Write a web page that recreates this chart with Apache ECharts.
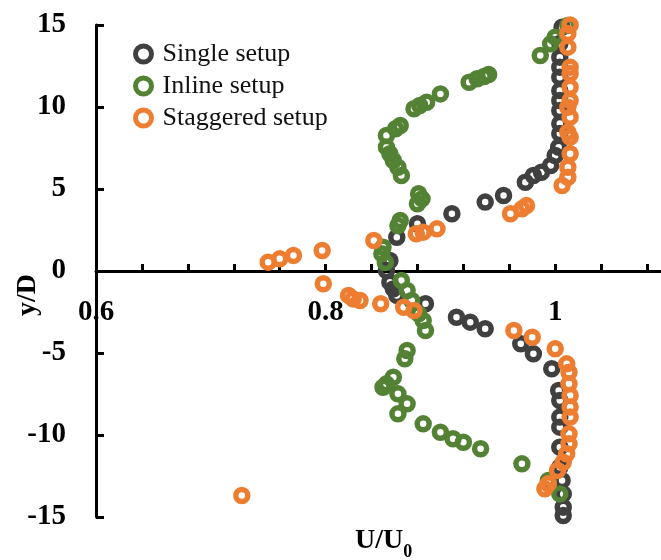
<!DOCTYPE html>
<html>
<head>
<meta charset="utf-8">
<script src="https://cdn.jsdelivr.net/npm/echarts@6/dist/echarts.min.js"></script>
<style>
  html, body { margin: 0; padding: 0; background: #fff; }
  #chart { width: 661px; height: 560px; }
</style>
</head>
<body>
<div id="chart"></div>
<script>
// Velocity deficit profiles: U/U0 against y/D for three turbine layouts
const seriesNames = ['Single setup', 'Inline setup', 'Staggered setup'];

const singleU = [1.006, 1.004, 1.004, 1.004, 1.004, 1.004, 1.004, 1.004, 1.004, 1.004, 1.003, 1.000, 0.996, 0.988, 0.981, 0.974, 0.955, 0.939, 0.910, 0.880, 0.862, 0.856, 0.853,
  0.856, 0.859, 0.862, 0.887, 0.914, 0.926, 0.939, 0.970, 0.981, 0.997, 1.003, 1.004, 1.004, 1.004, 1.004, 1.004, 1.006, 1.007, 1.007, 1.007];
const singleY = [14.87, 13.87, 13.04, 12.43, 11.82, 11.0, 10.40, 9.79, 8.99, 8.38, 7.55, 7.04, 6.43, 6.02, 5.82, 5.41, 4.60, 4.20, 3.49, 2.88, 2.06, 0.64, 0.03,
  -0.68, -1.09, -1.49, -2.00, -2.82, -3.12, -3.52, -4.44, -5.05, -5.96, -7.29, -7.9, -8.91, -9.52, -10.74, -11.96, -12.77, -13.59, -14.40, -14.91];

const inlineU = [1.011, 1.000, 0.996, 0.987, 0.942, 0.938, 0.932, 0.925, 0.900, 0.888, 0.882, 0.877, 0.865, 0.861, 0.853, 0.853, 0.856, 0.859, 0.863, 0.866, 0.881, 0.884, 0.880, 0.865, 0.863, 0.850, 0.849, 0.852,
  0.866, 0.871, 0.875, 0.881, 0.885, 0.887, 0.871, 0.869, 0.859, 0.853, 0.850, 0.863, 0.871, 0.863, 0.885, 0.900, 0.911, 0.920, 0.935, 0.971, 0.994, 1.004];
const inlineY = [14.97, 14.26, 13.85, 13.14, 11.98, 11.86, 11.72, 11.51, 10.80, 10.29, 10.09, 9.89, 8.87, 8.67, 8.26, 7.55, 7.15, 6.74, 6.33, 5.82, 4.71, 4.40, 4.10, 3.08, 2.77, 1.45, 1.05, 0.52,
  -0.58, -1.19, -1.80, -2.61, -3.02, -3.63, -4.85, -5.35, -6.48, -6.88, -7.09, -7.49, -8.10, -8.71, -9.32, -9.83, -10.23, -10.44, -10.84, -11.76, -12.77, -13.59];

const staggeredU = [1.013, 1.011, 1.011, 1.013, 1.013, 1.013, 1.013, 1.011, 1.013, 1.011, 1.013, 1.013, 1.011, 1.011, 1.006, 0.975, 0.971, 0.961, 0.897, 0.885, 0.879, 0.842, 0.797, 0.772, 0.760, 0.750,
  0.798, 0.820, 0.824, 0.830, 0.848, 0.868, 0.877, 0.964, 0.980, 1.000, 1.010, 1.012, 1.012, 1.013, 1.013, 1.013, 1.012, 1.012, 1.010, 1.007, 1.002, 0.994, 0.991, 0.727];
const staggeredY = [15.0, 14.48, 13.65, 12.43, 12.04, 11.21, 10.40, 9.99, 9.38, 8.46, 8.16, 7.15, 6.33, 5.72, 5.21, 3.99, 3.79, 3.49, 2.57, 2.37, 2.27, 1.86, 1.25, 0.95, 0.74, 0.54,
  -0.78, -1.49, -1.70, -1.80, -2.00, -2.21, -2.41, -3.63, -4.04, -4.74, -5.66, -6.17, -6.88, -7.59, -8.30, -8.91, -9.93, -10.54, -11.15, -11.66, -12.16, -12.98, -13.28, -13.69];

// Labelled x ticks (minor ticks every 0.04 stay unlabelled)
const xTickValues = [0.6, 0.8, 1.0];
const xTickLabels = ['0.6', '0.8', '1'];

const colors = ['#404040', '#548235', '#ed7d31'];
const serif = '"Liberation Serif", "Times New Roman", serif';

const GRID_TOP = 25;
const GRID_BOTTOM = 43;
const Y_MIN = -15;
const Y_MAX = 15;

function pairs(xs, ys) {
  return xs.map((x, i) => [x, ys[i]]);
}

const allData = [pairs(singleU, singleY), pairs(inlineU, inlineY), pairs(staggeredU, staggeredY)];

// The x axis sits on y = 0: shift the bottom axis up by the distance from the grid bottom to zero
const gridHeight = 560 - GRID_TOP - GRID_BOTTOM;
const zeroShift = gridHeight * (0 - Y_MIN) / (Y_MAX - Y_MIN);

const chart = echarts.init(document.getElementById('chart'), null, { renderer: 'canvas' });

chart.setOption({
  animation: false,
  backgroundColor: '#ffffff',
  grid: { left: 96, top: GRID_TOP, bottom: GRID_BOTTOM, right: -9, containLabel: false, outerBoundsMode: 'none' },
  legend: {
    orient: 'vertical',
    left: 128,
    top: 36,
    itemWidth: 28,
    itemHeight: 16,
    itemGap: 6,
    icon: 'circle',
    textStyle: { fontFamily: serif, fontSize: 26, color: '#111' },
    data: seriesNames.map((n, i) => ({
      name: n,
      itemStyle: { color: '#ffffff', borderColor: colors[i], borderWidth: 5 }
    }))
  },
  xAxis: {
    type: 'value',
    position: 'bottom',
    offset: -zeroShift,
    min: 0.6,
    max: 1.1,
    interval: 0.04,
    splitLine: { show: false },
    axisLine: { onZero: false, lineStyle: { color: '#000', width: 3 } },
    axisTick: { inside: true, length: 7, lineStyle: { color: '#000', width: 3 } },
    axisLabel: {
      margin: 27,
      fontFamily: serif,
      fontWeight: 'bold',
      fontSize: 29,
      color: '#000',
      formatter: v => {
        const k = xTickValues.findIndex(t => Math.abs(t - v) < 1e-6);
        return k >= 0 ? xTickLabels[k] : '';
      }
    }
  },
  yAxis: {
    type: 'value',
    min: Y_MIN,
    max: Y_MAX,
    interval: 5,
    splitLine: { show: false },
    axisLine: { onZero: false, lineStyle: { color: '#000', width: 3 } },
    axisTick: { inside: true, length: 8, lineStyle: { color: '#000', width: 3 } },
    axisLabel: {
      margin: 30,
      fontFamily: serif,
      fontWeight: 'bold',
      fontSize: 29,
      color: '#000'
    }
  },
  graphic: [
    {
      type: 'text',
      left: 14,
      top: 274,
      rotation: Math.PI / 2,
      style: {
        text: 'y/D',
        font: 'bold 28px ' + serif,
        fill: '#000'
      }
    },
    {
      type: 'text',
      left: 355,
      top: 527,
      style: {
        text: '{m|U/U}{s|0}',
        rich: {
          m: { font: 'bold 28px ' + serif, fill: '#000' },
          s: { font: 'bold 18px ' + serif, fill: '#000', verticalAlign: 'bottom', padding: [22, 0, 0, 0] }
        }
      }
    }
  ],
  series: seriesNames.map((n, i) => ({
    name: n,
    type: 'scatter',
    symbol: 'circle',
    symbolSize: 12,
    itemStyle: { color: 'rgba(0,0,0,0)', borderColor: colors[i], borderWidth: 5.5, opacity: 1 },
    emphasis: { disabled: true },
    data: allData[i]
  }))
});
</script>
</body>
</html>
